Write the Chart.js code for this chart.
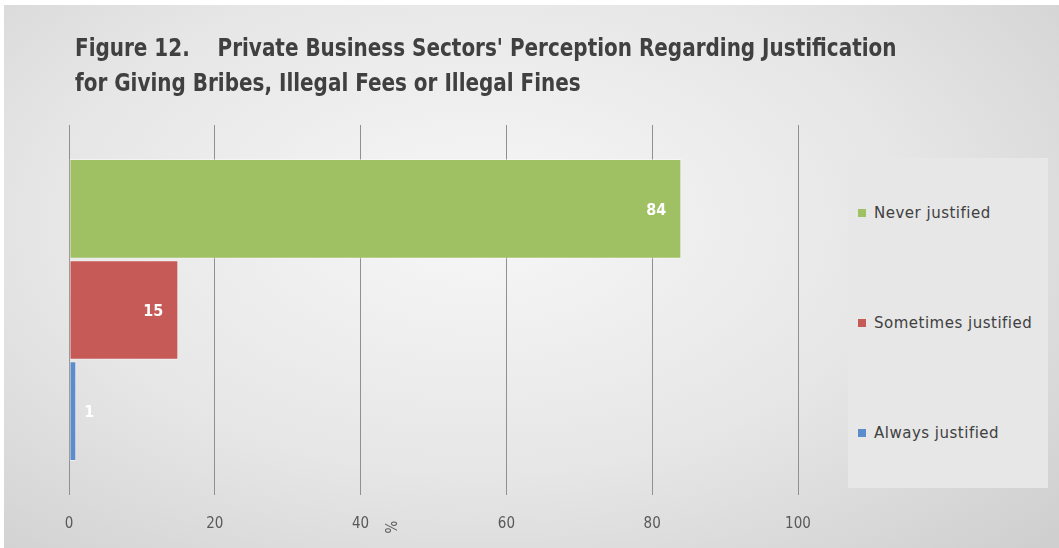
<!DOCTYPE html>
<html>
<head>
<meta charset="utf-8">
<script src="https://cdn.jsdelivr.net/npm/chart.js@4"></script>
<style>
  body { margin: 0; background: #fff; }
  #wrap {
    position: absolute; left: 4px; top: 5px; width: 1055px; height: 543px;
    background: radial-gradient(ellipse 75% 85% at 45% 40%, #f7f7f7 0%, #e6e6e6 55%, #cfcfcf 100%);
    overflow: hidden;
  }
  #title {
    position: absolute; left: 71px; top: 26px;
    font-family: "Liberation Sans Narrow", "DejaVu Sans Condensed", sans-serif;
    font-weight: bold; font-size: 24px; line-height: 35px; color: #404040;
    white-space: pre; transform: scaleX(0.925); transform-origin: 0 0;
  }
  #legend {
    position: absolute; left: 844px; top: 153px; width: 200px; height: 330px;
    background: #e7e7e7;
    font-family: "DejaVu Sans", sans-serif; font-size: 15px; letter-spacing: 0.5px; color: #404040;
  }
  .item { position: absolute; left: 10px; height: 20px; line-height: 20px; white-space: nowrap; }
  .swatch { display: inline-block; width: 8px; height: 8px; margin-right: 8px; vertical-align: 1px; }
  canvas { position: absolute; left: 0; top: 0; }
</style>
</head>
<body>
<div id="wrap">
  <canvas id="chart" width="1055" height="543"></canvas>
  <div id="title"></div>
  <div id="legend"></div>
</div>
<script>
// Figure data
const titleLines = [
    "Figure 12.    Private Business Sectors' Perception Regarding Justification",
    "for Giving Bribes, Illegal Fees or Illegal Fines"
];
const seriesNames = ['Never justified', 'Sometimes justified', 'Always justified'];
const seriesValues = [84, 15, 1];
const seriesColors = ['#9fc063', '#c65a57', '#5b8dcc'];
const tickValues = [0, 20, 40, 60, 80, 100];
const axisUnit = '%';

document.getElementById('title').textContent = titleLines.join('\n');

// Legend on the right, one row per series
const legend = document.getElementById('legend');
const legendRows = [55, 165, 275];
seriesNames.forEach((name, i) => {
    const row = document.createElement('div');
    row.className = 'item';
    row.style.top = (legendRows[i] - 10) + 'px';
    row.innerHTML = '<span class="swatch" style="background:' + seriesColors[i] + '"></span>' + name;
    legend.appendChild(row);
});

// Value labels: inside the bar end when there is room, else just outside
const valueLabels = {
    id: 'valueLabels',
    afterDatasetsDraw(chart) {
        const ctx = chart.ctx;
        ctx.save();
        ctx.fillStyle = '#ffffff';
        ctx.textBaseline = 'middle';
        chart.data.datasets.forEach((ds, i) => {
            const bar = chart.getDatasetMeta(i).data[0];
            const text = String(ds.data[0]);
            ctx.font = 'bold 16px "DejaVu Sans Condensed", sans-serif';
            const w = ctx.measureText(text).width;
            if (bar.x - bar.base > w + 30) {
                ctx.textAlign = 'right';
                ctx.fillText(text, bar.x - 15, bar.y + 2);
            } else {
                ctx.textAlign = 'left';
                ctx.fillText(text, bar.x + 8, bar.y + 2);
            }
        });
        ctx.restore();
    }
};

// Sideways unit label under the axis
const unitLabel = {
    id: 'unitLabel',
    afterDraw(chart) {
        const ctx = chart.ctx;
        const x = chart.scales.x.getPixelForValue(44.5);
        ctx.save();
        ctx.translate(x, chart.chartArea.bottom + 32);
        ctx.rotate(-Math.PI / 2);
        ctx.fillStyle = '#595959';
        ctx.font = '15px "DejaVu Sans Condensed", sans-serif';
        ctx.textAlign = 'center';
        ctx.textBaseline = 'middle';
        ctx.fillText(axisUnit, 0, 0);
        ctx.restore();
    }
};

new Chart(document.getElementById('chart'), {
    type: 'bar',
    data: {
        labels: [''],
        datasets: seriesNames.map((name, i) => ({
            label: name,
            data: [seriesValues[i]],
            backgroundColor: seriesColors[i],
            borderColor: 'rgba(255,255,255,0.45)',
            borderWidth: 1,
            borderSkipped: false,
            categoryPercentage: 0.82,
            barPercentage: 0.985
        }))
    },
    options: {
        indexAxis: 'y',
        responsive: false,
        animation: false,
        layout: { padding: { left: 65, right: 261, top: 120, bottom: 13 } },
        plugins: {
            legend: { display: false },
            tooltip: { enabled: false }
        },
        scales: {
            x: {
                min: 0,
                max: 100,
                afterBuildTicks: axis => { axis.ticks = tickValues.map(v => ({ value: v })); },
                afterFit: axis => { axis.height = 40; },
                border: { display: false },
                grid: { color: '#909090', lineWidth: 1, drawTicks: false },
                ticks: {
                    color: '#595959',
                    padding: 20,
                    font: { family: '"DejaVu Sans Condensed", sans-serif', size: 15 }
                }
            },
            y: { display: false }
        }
    },
    plugins: [valueLabels, unitLabel]
});
</script>
</body>
</html>
